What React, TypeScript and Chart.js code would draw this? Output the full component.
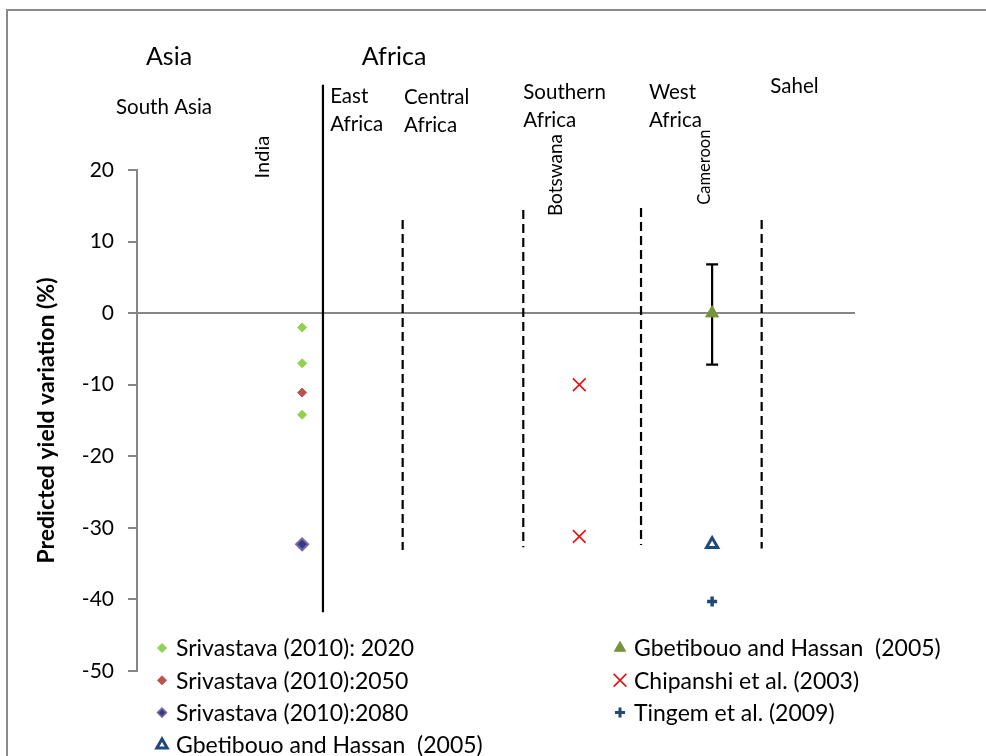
import React, { useEffect, useRef } from "react";
import { Chart, registerables } from "chart.js";
import { drawPoint } from "chart.js/helpers";

Chart.register(...registerables);

// ---------- data ----------
// site positions on the hidden horizontal axis (0..100)
const X_INDIA = 23;
const X_BOTSWANA = 61.6;
const X_CAMEROON = 80.1;

const Y_MIN = -50;
const Y_MAX = 20;
const Y_STEP = 10;

const srivastava2020 = [-2, -7, -14.2];
const srivastava2050 = [-11.1];
const srivastava2080 = [-32.3];
const gbetibouoOpen = [-32.3];
const gbetibouoFilled = [0];
const gbetibouoErrUp = [6.8];
const gbetibouoErrDown = [7.2];
const chipanshi = [-10, -31.2];
const tingem = [-40.3];

// region dividers
const dividerX = [25.9, 37.0, 53.8, 70.2, 87.0];
const dividerTop = [31.9, 13.0, 14.4, 14.7, 13.0];
const dividerBottom = [-41.8, -33.1, -32.7, -32.4, -32.9];
const dividerDashed = [false, true, true, true, true];

// annotation texts
const headingText = ["Asia", "Africa"];
const headingX = [4.46, 35.8];
const headingY = [35.8, 35.8];

const regionText = ["South Asia", "East\nAfrica", "Central\nAfrica", "Southern\nAfrica", "West\nAfrica", "Sahel"];
const regionX = [3.76, 26.9, 37.2, 53.8, 71.3, 88.2];
const regionY = [28.8, 30.3, 30.1, 30.9, 30.8, 31.7];
const regionCentered = [true, false, false, false, false, false];

const countryText = ["India", "Botswana", "Cameroon"];
const countryX = [17.5, 58.4, 79.0];
const countryY = [21.8, 19.3, 20.4];
const countrySize = [20, 19, 16.5];

const FONT = "Lato, 'Open Sans', sans-serif";

const pts = (x: number, ys: number[]) => ys.map((y) => ({ x, y }));

const annotationPlugin = {
  id: "annotations",
  beforeDraw(chart: any) {
    const ctx = chart.ctx;
    ctx.save();
    ctx.strokeStyle = "#8a8a8a";
    ctx.lineWidth = 2;
    ctx.strokeRect(7, 10, 1100, 900);
    ctx.restore();
  },
  beforeDatasetsDraw(chart: any) {
    const ctx = chart.ctx;
    const xs = chart.scales.x;
    const ys = chart.scales.y;
    chart.data.datasets.forEach((ds: any) => {
      if (!ds.errUp) return;
      ds.data.forEach((p: any, i: number) => {
        const px = xs.getPixelForValue(p.x);
        const top = ys.getPixelForValue(p.y + ds.errUp[i]);
        const bot = ys.getPixelForValue(p.y - ds.errDown[i]);
        ctx.save();
        ctx.strokeStyle = "#000";
        ctx.lineWidth = 2.2;
        ctx.beginPath();
        ctx.moveTo(px, top);
        ctx.lineTo(px, bot);
        ctx.moveTo(px - 6, top);
        ctx.lineTo(px + 6, top);
        ctx.moveTo(px - 6, bot);
        ctx.lineTo(px + 6, bot);
        ctx.stroke();
        ctx.restore();
      });
    });
  },
  afterDraw(chart: any) {
    const ctx = chart.ctx;
    const xs = chart.scales.x;
    const ys = chart.scales.y;
    ctx.save();
    ctx.fillStyle = "#000";
    ctx.textBaseline = "middle";
    // headings
    ctx.font = `25px ${FONT}`;
    ctx.textAlign = "center";
    headingText.forEach((t, i) => {
      ctx.fillText(t, xs.getPixelForValue(headingX[i]), ys.getPixelForValue(headingY[i]));
    });
    // regions
    ctx.font = `20.5px ${FONT}`;
    regionText.forEach((t, i) => {
      ctx.textAlign = regionCentered[i] ? "center" : "left";
      const x = xs.getPixelForValue(regionX[i]);
      const y0 = ys.getPixelForValue(regionY[i]);
      t.split("\n").forEach((line, j) => ctx.fillText(line, x, y0 + j * 28));
    });
    // countries (rotated)
    ctx.textAlign = "center";
    countryText.forEach((t, i) => {
      ctx.save();
      ctx.font = `${countrySize[i]}px ${FONT}`;
      ctx.translate(xs.getPixelForValue(countryX[i]), ys.getPixelForValue(countryY[i]));
      ctx.rotate(-Math.PI / 2);
      ctx.fillText(t, 0, 0);
      ctx.restore();
    });
    // legend
    ctx.font = `23px ${FONT}`;
    ctx.textAlign = "left";
    const colMarkerX = [162, 620];
    const rowY0 = 648;
    const rowGap = 32.3;
    chart.data.datasets.forEach((ds: any) => {
      if (ds.legendCol === undefined) return;
      const mx = colMarkerX[ds.legendCol];
      const my = rowY0 + ds.legendRow * rowGap;
      ctx.save();
      ctx.fillStyle = ds.backgroundColor;
      ctx.strokeStyle = ds.borderColor;
      ctx.lineWidth = ds.legendBorderWidth ?? ds.borderWidth;
      drawPoint(ctx, { pointStyle: ds.pointStyle, radius: ds.legendRadius, rotation: 0, borderWidth: ctx.lineWidth }, mx, my);
      ctx.restore();
      ctx.fillText(ds.label, mx + 14, my + 1);
    });
    ctx.restore();
  },
};

export default function App() {
  const ref = useRef<HTMLCanvasElement>(null);
  useEffect(() => {
    document.body.style.margin = "0";
    const dividerSets = dividerX.map((x, i) => ({
      label: "divider" + i,
      data: [
        { x, y: dividerTop[i] },
        { x, y: dividerBottom[i] },
      ],
      showLine: true,
      borderColor: "#000",
      backgroundColor: "#000",
      borderWidth: 2.2,
      borderDash: dividerDashed[i] ? [9, 5] : [],
      pointRadius: 0,
      clip: false,
    }));
    const chart = new Chart(ref.current!, {
      type: "scatter",
      data: {
        datasets: [
          ...dividerSets,
          {
            label: "Srivastava (2010): 2020",
            data: pts(X_INDIA, srivastava2020),
            pointStyle: "rectRot",
            backgroundColor: "#92D050",
            borderColor: "#92D050",
            borderWidth: 1,
            pointRadius: 4.5,
            legendRadius: 4.5,
            legendCol: 0,
            legendRow: 0,
          },
          {
            label: "Srivastava (2010):2050",
            data: pts(X_INDIA, srivastava2050),
            pointStyle: "rectRot",
            backgroundColor: "#C0504D",
            borderColor: "#C0504D",
            borderWidth: 1,
            pointRadius: 4.5,
            legendRadius: 4.5,
            legendCol: 0,
            legendRow: 1,
          },
          {
            label: "Srivastava (2010):2080",
            data: pts(X_INDIA, srivastava2080),
            pointStyle: "rectRot",
            backgroundColor: "#2E3F85",
            borderColor: "#8064A2",
            borderWidth: 2,
            pointRadius: 6,
            legendRadius: 4.5,
            legendBorderWidth: 1.5,
            legendCol: 0,
            legendRow: 2,
          },
          {
            label: "Gbetibouo and Hassan  (2005)",
            data: pts(X_CAMEROON, gbetibouoOpen),
            pointStyle: "triangle",
            backgroundColor: "#ffffff",
            borderColor: "#1F497D",
            borderWidth: 3,
            pointRadius: 6.5,
            legendRadius: 6,
            legendCol: 0,
            legendRow: 3,
          },
          {
            label: "Gbetibouo and Hassan  (2005)",
            data: pts(X_CAMEROON, gbetibouoFilled),
            errUp: gbetibouoErrUp,
            errDown: gbetibouoErrDown,
            pointStyle: "triangle",
            backgroundColor: "#77933C",
            borderColor: "#77933C",
            borderWidth: 1,
            pointRadius: 7.5,
            legendRadius: 6.5,
            legendCol: 1,
            legendRow: 0,
          },
          {
            label: "Chipanshi et al. (2003)",
            data: pts(X_BOTSWANA, chipanshi),
            pointStyle: "crossRot",
            backgroundColor: "#E01414",
            borderColor: "#E01414",
            borderWidth: 1.6,
            pointRadius: 9,
            legendRadius: 9,
            legendCol: 1,
            legendRow: 1,
          },
          {
            label: "Tingem et al. (2009)",
            data: pts(X_CAMEROON, tingem),
            pointStyle: "cross",
            backgroundColor: "#1F497D",
            borderColor: "#1F497D",
            borderWidth: 3.5,
            pointRadius: 5,
            legendRadius: 5,
            legendBorderWidth: 3,
            legendCol: 1,
            legendRow: 2,
          },
        ] as any,
      },
      options: {
        animation: false,
        responsive: false,
        events: [],
        layout: { padding: { left: 20, top: 170, right: 131, bottom: 85 } },
        plugins: { legend: { display: false }, tooltip: { enabled: false } },
        scales: {
          x: { type: "linear", min: 0, max: 100, display: false },
          y: {
            min: Y_MIN,
            max: Y_MAX,
            ticks: { stepSize: Y_STEP, padding: 14, color: "#000", font: { family: FONT, size: 21 } },
            grid: {
              drawOnChartArea: true,
              color: (c: any) => (c.tick && c.tick.value === 0 ? "#868686" : "rgba(0,0,0,0)"),
              lineWidth: 2,
              tickColor: "#868686",
              tickLength: 9,
              tickWidth: 2,
            },
            border: { color: "#868686", width: 2 },
            title: {
              display: true,
              text: "Predicted yield variation (%)",
              color: "#000",
              font: { family: FONT, size: 23, weight: "bold" },
              padding: { top: 13, bottom: 0 },
            },
            afterFit: (s: any) => {
              s.width = 117;
            },
          },
        },
      } as any,
      plugins: [annotationPlugin],
    });
    return () => chart.destroy();
  }, []);
  return <canvas ref={ref} width={986} height={756} style={{ display: "block" }} />;
}
